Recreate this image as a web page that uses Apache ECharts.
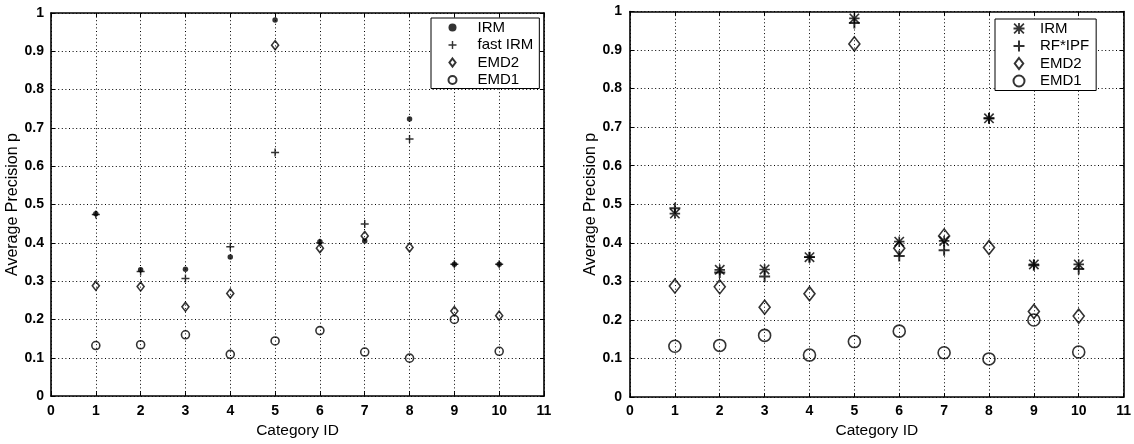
<!DOCTYPE html>
<html><head><meta charset="utf-8">
<script src="https://cdn.jsdelivr.net/npm/echarts@6/dist/echarts.min.js"></script>
<style>html,body{margin:0;padding:0;background:#fff}#c{width:1134px;height:444px}</style>
</head><body><div id="c"></div>
<script>
// ---- data ----
const categoryIds = [1, 2, 3, 4, 5, 6, 7, 8, 9, 10];
const irm     = [0.476, 0.330, 0.331, 0.363, 0.982, 0.403, 0.405, 0.723, 0.344, 0.344];
const fastIrm = [0.474, 0.325, 0.307, 0.390, 0.636, 0.400, 0.449, 0.671, 0.344, 0.344];
const rfIpf   = [0.490, 0.323, 0.313, 0.363, 0.970, 0.366, 0.381, 0.723, 0.342, 0.332];
const emd2    = [0.288, 0.286, 0.233, 0.268, 0.916, 0.386, 0.418, 0.388, 0.222, 0.210];
const emd1    = [0.132, 0.134, 0.160, 0.109, 0.144, 0.171, 0.115, 0.099, 0.200, 0.117];
const leftLegend  = ['IRM', 'fast IRM', 'EMD2', 'EMD1'];
const rightLegend = ['IRM', 'RF*IPF', 'EMD2', 'EMD1'];
const xTitle = 'Category ID';
const yTitle = 'Average Precision p';

// ---- helpers ----
const FONT = '"Liberation Sans", Arial, Helvetica, sans-serif';
const pts = vals => categoryIds.map((c, i) => [c, vals[i]]);
const PLUS = 'path://M4.1 0h1.8v10h-1.8z M0 4.1h10v1.8h-10z';
const STAR = 'path://M4.2 0h1.6v10h-1.6z M0 4.2h10v1.6h-10z M1.1 0L10 8.9L8.9 10L0 1.1Z M8.9 0L10 1.1L1.1 10L0 8.9Z';
const DIAMOND = 'path://M5 0L10 6.5L5 13L0 6.5Z';
const hollow = {color: 'rgba(0,0,0,0)', borderColor: '#000', borderWidth: 1.6};
const solid = {color: '#000', borderWidth: 0};
const grid = [
  {left: 51, top: 13, width: 493, height: 392},
  {left: 630, top: 11.5, width: 495, height: 391.3}
];
const dotted = {show: true, lineStyle: {color: '#000', width: 1, type: [1, 2.6]}};
function xAxes(gi, xNameGap, labMargin) {
  return [
    {type: 'value', gridIndex: gi, min: 0, max: 11, interval: 1, position: 'bottom',
     name: xTitle, nameLocation: 'middle', nameGap: xNameGap,
     nameTextStyle: {fontFamily: FONT, fontSize: 15.5, color: '#000'},
     axisLine: {show: true, onZero: false, lineStyle: {color: '#000', width: 1.6}},
     axisTick: {show: true, inside: true, length: 4, lineStyle: {color: '#000'}},
     axisLabel: {margin: labMargin, fontFamily: FONT, fontSize: 14, fontWeight: 'bold', color: '#000'},
     splitLine: dotted},
    {type: 'value', gridIndex: gi, min: 0, max: 11, interval: 1, position: 'top',
     axisLine: {show: true, onZero: false, lineStyle: {color: '#000', width: 1.6}},
     axisTick: {show: true, inside: true, length: 4, lineStyle: {color: '#000'}},
     axisLabel: {show: false}, splitLine: {show: false}}
  ];
}
function yAxes(gi, yNameGap, labMargin) {
  return [
    {type: 'value', gridIndex: gi, min: 0, max: 1, interval: 0.1, position: 'left',
     name: yTitle, nameLocation: 'middle', nameGap: yNameGap,
     nameTextStyle: {fontFamily: FONT, fontSize: 16, color: '#000'},
     axisLine: {show: true, onZero: false, lineStyle: {color: '#000', width: 1.6}},
     axisTick: {show: true, inside: true, length: 4, lineStyle: {color: '#000'}},
     axisLabel: {margin: labMargin, fontFamily: FONT, fontSize: 14, fontWeight: 'bold', color: '#000'},
     splitLine: dotted},
    {type: 'value', gridIndex: gi, min: 0, max: 1, interval: 0.1, position: 'right',
     axisLine: {show: true, onZero: false, lineStyle: {color: '#000', width: 1.6}},
     axisTick: {show: true, inside: true, length: 4, lineStyle: {color: '#000'}},
     axisLabel: {show: false}, splitLine: {show: false}}
  ];
}
function sc(name, vals, ax, symbol, size, style) {
  return {type: 'scatter', name, data: pts(vals), xAxisIndex: ax, yAxisIndex: ax,
          symbol, symbolSize: size, itemStyle: style, silent: true};
}
const legendBase = {orient: 'vertical', selectedMode: false, backgroundColor: '#fff',
  borderColor: '#000', borderWidth: 1, borderRadius: 0,
  textStyle: {fontFamily: FONT, fontSize: 15, color: '#000', lineHeight: 15}};

const option = {
  animation: false,
  backgroundColor: '#fff',
  grid,
  xAxis: [...xAxes(0, 26, 8), ...xAxes(1, 24, 7)],
  yAxis: [...yAxes(0, 24, 7), ...yAxes(1, 22, 8)],
  legend: [
    Object.assign({}, legendBase, {left: 431, top: 18, padding: [2, 6, 1, 16.5],
      itemWidth: 40, itemHeight: 8, itemGap: 2.5,
      data: [leftLegend[0], leftLegend[1], {name: leftLegend[2], icon: DIAMOND}, leftLegend[3]]}),
    Object.assign({}, legendBase, {left: 995, top: 19, padding: [2, 7, 2, 17.5],
      itemWidth: 32, itemHeight: 11, itemGap: 2.5,
      data: [{name: rightLegend[0], icon: STAR}, rightLegend[1], {name: rightLegend[2], icon: DIAMOND}, rightLegend[3]]})
  ],
  series: [
    sc('EMD1', emd1, 0, 'circle', 8, hollow),
    sc('EMD2', emd2, 0, DIAMOND, [7, 9], hollow),
    sc('fast IRM', fastIrm, 0, PLUS, 8, solid),
    sc('IRM', irm, 0, 'circle', 5.5, solid),
    sc('EMD1', emd1, 2, 'circle', 12, hollow),
    sc('EMD2', emd2, 2, DIAMOND, [11, 14], hollow),
    sc('RF*IPF', rfIpf, 2, PLUS, 11, solid),
    sc('IRM', irm, 2, STAR, 10.5, solid)
  ]
};
const chart = echarts.init(document.getElementById('c'), null, {renderer: 'canvas'});
chart.setOption(option);
</script></body></html>
